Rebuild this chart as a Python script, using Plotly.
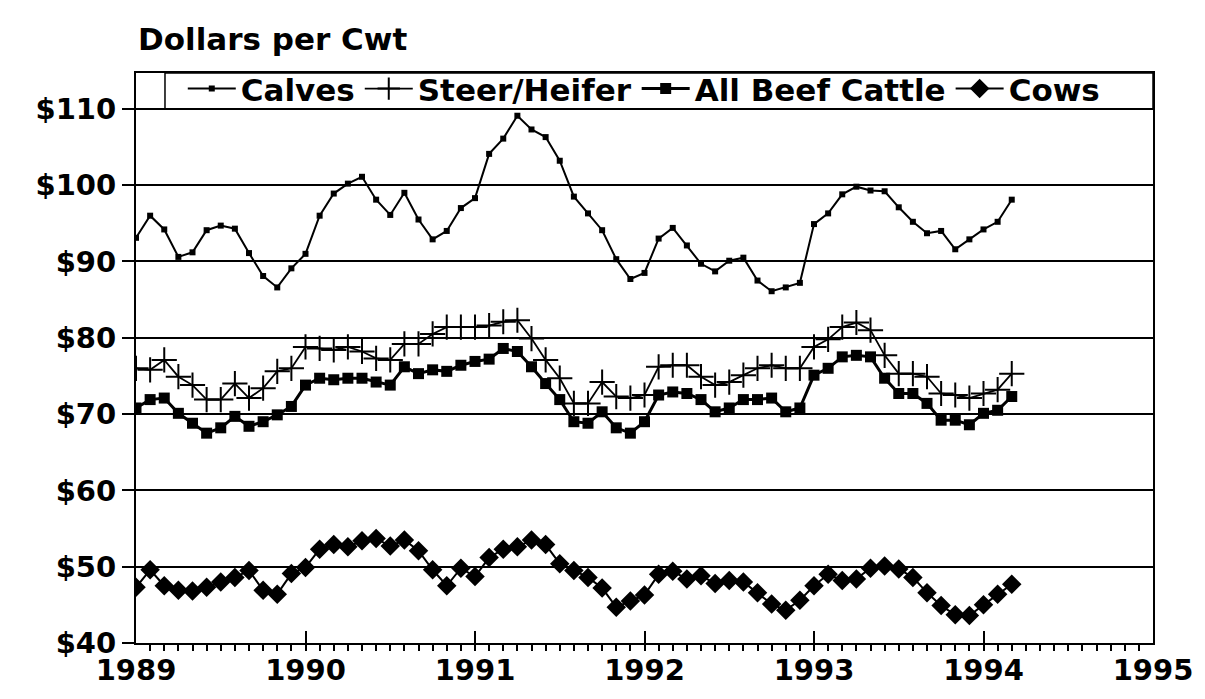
import plotly.graph_objects as go

start_year = 1989
calves = [93.1, 96.0, 94.2, 90.6, 91.2, 94.1, 94.7, 94.3, 91.1, 88.1, 86.6, 89.1,
          91.0, 96.0, 98.9, 100.2, 101.1, 98.1, 96.1, 99.0, 95.5, 92.9, 94.0, 97.0,
          98.3, 104.1, 106.1, 109.1, 107.3, 106.3, 103.2, 98.5, 96.3, 94.1, 90.3, 87.7,
          88.5, 93.0, 94.4, 92.1, 89.7, 88.7, 90.1, 90.5, 87.5, 86.1, 86.6, 87.2,
          94.9, 96.3, 98.8, 99.8, 99.3, 99.2, 97.1, 95.2, 93.7, 94.0, 91.6, 92.9,
          94.2, 95.2, 98.1]
steer = [76.0, 75.8, 77.1, 74.9, 73.8, 71.9, 71.9, 74.0, 72.1, 73.4, 75.6, 76.0,
         78.8, 78.6, 78.4, 78.8, 78.2, 77.3, 77.1, 79.2, 79.2, 80.5, 81.4, 81.4,
         81.4, 81.6, 82.1, 82.3, 79.9, 77.1, 74.7, 71.4, 71.4, 74.2, 72.3, 72.1,
         72.5, 76.2, 76.4, 76.4, 74.9, 73.8, 74.2, 75.1, 76.0, 76.4, 76.0, 76.0,
         78.8, 79.8, 81.4, 82.0, 81.0, 77.7, 75.3, 75.3, 74.9, 72.7, 72.5, 72.1,
         72.7, 73.2, 75.3]
all_beef = [70.8, 71.9, 72.1, 70.1, 68.8, 67.5, 68.2, 69.7, 68.4, 69.0, 69.9, 71.0,
            73.8, 74.7, 74.5, 74.7, 74.7, 74.2, 73.8, 76.2, 75.3, 75.8, 75.6, 76.4,
            76.9, 77.2, 78.6, 78.2, 76.2, 74.0, 71.9, 69.0, 68.8, 70.3, 68.2, 67.5,
            69.0, 72.5, 72.9, 72.7, 71.9, 70.3, 70.8, 71.9, 71.9, 72.1, 70.3, 70.8,
            75.1, 76.0, 77.5, 77.7, 77.5, 74.7, 72.7, 72.7, 71.4, 69.2, 69.2, 68.6,
            70.1, 70.5, 72.3]
cows = [47.3, 49.6, 47.5, 46.9, 46.8, 47.3, 48.0, 48.6, 49.5, 46.9, 46.4, 49.1,
        49.9, 52.3, 52.9, 52.6, 53.4, 53.7, 52.7, 53.5, 52.1, 49.6, 47.5, 49.8,
        48.7, 51.2, 52.3, 52.6, 53.5, 52.9, 50.4, 49.5, 48.6, 47.2, 44.7, 45.5,
        46.3, 49.0, 49.4, 48.4, 48.8, 47.8, 48.2, 48.0, 46.6, 45.1, 44.3, 45.6,
        47.5, 49.0, 48.2, 48.4, 49.8, 50.1, 49.7, 48.6, 46.6, 44.9, 43.7, 43.6,
        45.0, 46.4, 47.7]
year_ticks = [1989, 1990, 1991, 1992, 1993, 1994, 1995]
y_ticks = [40, 50, 60, 70, 80, 90, 100, 110]
y_top = 114.7

x = [start_year + i / 12 for i in range(len(calves))]

fig = go.Figure()
fig.add_trace(go.Scatter(x=x, y=calves, name="Calves", mode="lines+markers",
                         line=dict(color="black", width=2),
                         marker=dict(symbol="square", size=6, color="black")))
fig.add_trace(go.Scatter(x=x, y=steer, name="Steer/Heifer", mode="lines+markers",
                         line=dict(color="black", width=1.8),
                         marker=dict(symbol="cross-thin", size=18, color="black",
                                     line=dict(width=2, color="black"))))
fig.add_trace(go.Scatter(x=x, y=all_beef, name="All Beef Cattle", mode="lines+markers",
                         line=dict(color="black", width=3),
                         marker=dict(symbol="square", size=11, color="black")))
fig.add_trace(go.Scatter(x=x, y=cows, name="Cows", mode="lines+markers",
                         line=dict(color="black", width=2),
                         marker=dict(symbol="diamond", size=15, color="black")))

heavy = "DejaVu Sans, Liberation Sans, Arial"

fig.update_layout(
    width=1205, height=699,
    margin=dict(l=136, r=50, t=73, b=51),
    paper_bgcolor="white", plot_bgcolor="white",
    showlegend=True,
    legend=dict(orientation="h", x=0.046, xanchor="left", y=0.972, yanchor="middle",
                bgcolor="rgba(0,0,0,0)", borderwidth=0,
                font=dict(family=heavy, size=31, color="black", weight="bold"),
                itemwidth=48, tracegroupgap=0),
    shapes=[dict(type="rect", xref="paper", yref="y", x0=0.0285, x1=1,
                 y0=y_ticks[-1], y1=y_top, line=dict(color="black", width=1.5),
                 fillcolor="rgba(0,0,0,0)", layer="above")],
    annotations=[dict(text="<b>Dollars per Cwt</b>", xref="paper", yref="paper",
                      x=0, y=1, yshift=14, xanchor="left", yanchor="bottom",
                      showarrow=False,
                      font=dict(family=heavy, size=31, color="black",
                                weight="bold"))],
)
fig.update_xaxes(range=[1989, 1995], tickvals=year_ticks,
                 ticktext=[str(v) for v in year_ticks],
                 showgrid=False, zeroline=False,
                 showline=True, linecolor="black", linewidth=2, mirror=True,
                 ticks="inside", ticklen=12, tickwidth=2, tickcolor="black",
                 tickfont=dict(family=heavy, size=29, color="black", weight="bold"),
                 minor=dict(dtick=1 / 12, tick0=1989, ticks="outside", ticklen=6,
                            tickwidth=1.5, tickcolor="black", showgrid=False))
fig.update_yaxes(range=[40, y_top], tickvals=y_ticks,
                 ticktext=["$" + str(v) for v in y_ticks],
                 showgrid=True, gridcolor="black", gridwidth=1.5,
                 zeroline=False,
                 showline=True, linecolor="black", linewidth=2, mirror=True,
                 ticks="outside", ticklen=12, tickwidth=2, tickcolor="black",
                 tickfont=dict(family=heavy, size=29, color="black", weight="bold"))

fig.write_html("out.html", config={"displayModeBar": False},
               post_script="document.body.style.margin='0';")
